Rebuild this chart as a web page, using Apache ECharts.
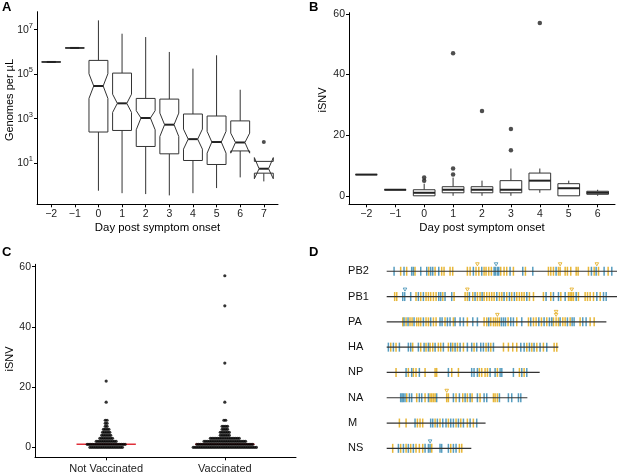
<!DOCTYPE html>
<html>
<head>
<meta charset="utf-8">
<script src="https://cdn.jsdelivr.net/npm/echarts@6/dist/echarts.min.js"></script>
<style>
  html, body { margin: 0; padding: 0; background: #fff; }
  #chart { width: 617px; height: 475px; }
</style>
</head>
<body>
<div id="chart"></div>
<script>
// ---- panel A: viral load (log10 genomes per uL) by day ----
const loadDays = [-2, -1, 0, 1, 2, 3, 4, 5, 6, 7];
// [whisker low, q1, notch low, median, notch high, q3, whisker high]
const loadStats = [
  [5.55, 5.55, 5.55, 5.55, 5.55, 5.55, 5.55],
  [6.18, 6.18, 6.18, 6.18, 6.18, 6.18, 6.18],
  [-0.24, 2.40, 3.91, 4.47, 5.02, 5.62, 7.42],
  [-0.35, 2.47, 3.28, 3.69, 4.10, 5.05, 6.82],
  [-0.39, 1.75, 2.50, 3.03, 3.36, 3.91, 6.67],
  [-0.45, 1.42, 2.20, 2.73, 3.25, 3.88, 6.00],
  [-0.35, 1.12, 1.63, 2.08, 2.53, 3.21, 5.25],
  [-0.12, 0.94, 1.45, 1.95, 2.43, 3.12, 5.85],
  [0.36, 1.55, 1.45, 1.93, 2.35, 2.90, 4.30],
  [0.18, 0.55, 0.30, 0.75, 1.25, 1.08, 1.08]
];
const loadOutliers = [[7, 1.95]];
const loadTicks = [1, 3, 5, 7];

// ---- panel B: iSNV by day ----
const snvDays = [-2, -1, 0, 1, 2, 3, 4, 5, 6];
// [whisker low, q1, median, q3, whisker high]
const snvStats = [
  [7, 7, 7, 7, 7],
  [2, 2, 2, 2, 2],
  [0, 0, 1, 2, 4],
  [0, 1, 2, 3, 6],
  [0, 1, 2, 3, 5],
  [0, 1, 2, 5, 9],
  [1, 2, 5, 7.5, 9],
  [0, 0, 2.5, 4, 5],
  [0, 0.5, 1, 1.5, 2]
];
// [day, iSNV]
const snvOutliers = [[0, 5], [0, 6], [1, 7], [1, 9], [1, 47], [2, 28], [3, 15], [3, 22], [4, 57]];
const snvTicks = [0, 20, 40, 60];

// ---- panel C: iSNV by vaccination ----
const groups = ['Not Vaccinated', 'Vaccinated'];
const snvLevels = [0, 1, 2, 3, 4, 5, 6, 7, 8, 9, 15, 22, 28, 47, 57];
const notVaxCounts = [19, 22, 12, 8, 6, 5, 4, 2, 2, 2, 1, 1, 0, 0, 0];
const vaxCounts = [36, 32, 24, 17, 6, 6, 4, 4, 0, 2, 1, 0, 1, 1, 1];
const groupMedians = [1, 1];

// ---- panel D: iSNV sites along each genome segment (nt) ----
const segments = ['PB2', 'PB1', 'PA', 'HA', 'NP', 'NA', 'M', 'NS'];
const segmentLengths = [2341, 2341, 2233, 1745, 1555, 1430, 1005, 860];
const yellowSites = [
  [142,203,288,427,492,559,583,644,671,820,848,908,936,990,1010,1037,1064,1159,1193,1220,1288,1410,1644,1668,1695,1746,1763,1814,1837,1871,1926,1946,2051,2109,2153,2251],
  [81,102,298,346,400,424,447,475,502,570,685,797,820,875,922,949,990,1017,1044,1068,1092,1146,1170,1220,1271,1322,1349,1373,1397,1451,1492,1593,1668,1770,1848,1865,1881,1898,1949,2017,2041,2068,2102,2170],
  [163,197,237,258,305,325,346,400,424,475,502,593,678,820,990,1017,1058,1085,1105,1125,1146,1234,1322,1441,1492,1519,1573,1627,1695,1722,1746,1790,1814,1865,1966,2068,2109],
  [41,95,264,346,400,441,468,525,549,627,671,719,780,888,1010,1058,1187,1237,1281,1322,1424,1475,1526,1593,1702,1729],
  [95,220,271,298,390,492,508,661,729,942,966,1000,1024,1125,1349,1397],
  [203,305,390,441,458,475,492,610,627,705,773,820,868,949,1085,1102,1125],
  [129,197,312,339,366,492,542,627,705,753,820,881],
  [61,142,197,244,298,332,366,458,651,739,763]
];
const blueSites = [
  [75,176,254,271,346,407,447,468,529,881,966,1092,1105,1125,1139,1254,1383,1485,1722,2081,2129,2210,2288],
  [163,183,244,322,373,529,549,593,661,841,898,970,1119,1193,1248,1298,1424,1620,1695,1746,1814,1926,2136,2204,2231],
  [176,217,278,373,447,542,563,617,644,695,746,780,875,922,1037,1166,1187,1207,1261,1288,1373,1464,1546,1600,1654,1678,1763,1837,1885,1905,1993,2027],
  [17,68,129,220,244,322,380,424,492,576,651,695,746,820,864,915,956,983,1034,1085,1363,1397,1451,1498,1559,1627],
  [197,254,332,627,864,888,922,1051,1102,1153,1170,1288,1373,1424],
  [142,156,169,186,231,254,332,356,424,508,678,739,797,848,922,990,1017,1146,1237,1271,1339,1363],
  [288,447,468,515,570,603,651,678,729,780,848,915],
  [119,170,220,271,390,424,441,542,559,627,678,705]
];
const markedYellow = [[922, 1763, 2136], [820, 1881], [1125, 1722, 1722], [], [], [610], [], []];
const markedBlue = [[1112], [186], [], [], [], [], [], [441]];

const FONT = 'Liberation Sans, Arial, sans-serif';
const YELLOW = '#E3AA16';
const BLUE = '#3A8CB4';
const minus = v => String(v).replace('-', '\u2212');

function boxRenderer(widthUnits, notched) {
  return function (params, api) {
    const x = api.value(0);
    const y = v => api.coord([x, v])[1];
    const cx = api.coord([x, 0])[0];
    const hw = api.size([widthUnits, 0])[0] / 2;
    const lo = api.value(1), q1 = api.value(2), n1 = api.value(3), med = api.value(4),
      n2 = api.value(5), q3 = api.value(6), hi = api.value(7);
    const L = cx - hw, R = cx + hw, ind = notched ? hw * 0.5 : 0;
    const pts = notched
      ? [[L, y(q3)], [R, y(q3)], [R, y(n2)], [R - ind, y(med)], [R, y(n1)], [R, y(q1)],
         [L, y(q1)], [L, y(n1)], [L + ind, y(med)], [L, y(n2)]]
      : [[L, y(q3)], [R, y(q3)], [R, y(q1)], [L, y(q1)]];
    return {
      type: 'group',
      children: [
        { type: 'line', shape: { x1: cx, y1: y(hi), x2: cx, y2: y(q3) }, style: { stroke: '#333', lineWidth: 1 } },
        { type: 'line', shape: { x1: cx, y1: y(q1), x2: cx, y2: y(lo) }, style: { stroke: '#333', lineWidth: 1 } },
        { type: 'polygon', shape: { points: pts }, style: { fill: '#fff', stroke: '#333', lineWidth: 1 } },
        { type: 'line', shape: { x1: L + ind, y1: y(med), x2: R - ind, y2: y(med) }, style: { stroke: '#222', lineWidth: 2 } }
      ]
    };
  };
}

function axisBase(extra) {
  return Object.assign({
    type: 'value',
    splitLine: { show: false },
    axisLine: { show: true, onZero: false, lineStyle: { color: '#000', width: 1 } },
    nameTextStyle: { color: '#000', fontSize: 11.4, fontFamily: FONT }
  }, extra);
}
function ticksAt(vals) {
  return { show: true, length: 3, lineStyle: { color: '#000' }, customValues: vals };
}
function labelsAt(vals, extra) {
  return Object.assign({ color: '#222', fontSize: 10.5, fontFamily: FONT, margin: 4, customValues: vals }, extra);
}

// panel C dot positions (beeswarm-like rows)
const dotStep = 0.0152;
const dotData = [];
[notVaxCounts, vaxCounts].forEach((counts, g) => {
  counts.forEach((n, k) => {
    for (let i = 0; i < n; i++) {
      dotData.push([g + 1 + (i - (n - 1) / 2) * dotStep, snvLevels[k]]);
    }
  });
});

// panel D tick data
const tickData = [];
segments.forEach((s, r) => {
  yellowSites[r].forEach(p => tickData.push([p, r, 0]));
  blueSites[r].forEach(p => tickData.push([p, r, 1]));
});
const markData = [];
segments.forEach((s, r) => {
  const seen = {};
  markedYellow[r].forEach(p => { seen[p] = (seen[p] || 0) + 1; markData.push([p, r, 0, seen[p] - 1]); });
  markedBlue[r].forEach(p => { markData.push([p, r, 1, 0]); });
});

const chart = echarts.init(document.getElementById('chart'));

const option = {
  animation: false,
  backgroundColor: '#fff',
  textStyle: { fontFamily: FONT },
  grid: [
    { left: 37, top: 11.7, width: 241, height: 192.6, outerBoundsMode: 'none' },
    { left: 349, top: 12.7, width: 266, height: 191.6, outerBoundsMode: 'none' },
    { left: 35, top: 264.3, width: 261, height: 193, outerBoundsMode: 'none' },
    { left: 386.7, top: 258.6, width: 230.3, height: 202.4, outerBoundsMode: 'none' }
  ],
  xAxis: [
    axisBase({
      gridIndex: 0, min: -2.6, max: 7.6,
      name: 'Day post symptom onset', nameLocation: 'middle', nameGap: 18,
      axisTick: ticksAt(loadDays),
      axisLabel: labelsAt(loadDays, { formatter: minus })
    }),
    axisBase({
      gridIndex: 1, min: -2.6, max: 6.6,
      name: 'Day post symptom onset', nameLocation: 'middle', nameGap: 18,
      axisTick: ticksAt(snvDays),
      axisLabel: labelsAt(snvDays, { formatter: minus })
    }),
    axisBase({
      gridIndex: 2, min: 0.4, max: 2.6,
      axisTick: ticksAt([1, 2]),
      axisLabel: labelsAt([1, 2], { fontSize: 11, margin: 6, formatter: v => groups[Math.round(v) - 1] })
    }),
    { type: 'value', gridIndex: 3, min: 0, max: 2341, show: false }
  ],
  yAxis: [
    axisBase({
      gridIndex: 0, min: -0.85, max: 7.81,
      axisTick: ticksAt(loadTicks),
      axisLabel: labelsAt(loadTicks, {
        formatter: v => '10{s|' + v + '}',
        rich: { s: { fontSize: 7.5, fontFamily: FONT, color: '#222', padding: [0, 0, 8, 0] } }
      })
    }),
    axisBase({
      gridIndex: 1, min: -2.8, max: 60.4,
      axisTick: ticksAt(snvTicks),
      axisLabel: labelsAt(snvTicks)
    }),
    axisBase({
      gridIndex: 2, min: -3.3, max: 60.8,
      axisTick: ticksAt(snvTicks),
      axisLabel: labelsAt(snvTicks)
    }),
    {
      type: 'category', gridIndex: 3, data: segments, inverse: true,
      axisLine: { show: false }, axisTick: { show: false }, splitLine: { show: false },
      axisLabel: { align: 'left', margin: 38.6, color: '#111', fontSize: 11, fontFamily: FONT }
    }
  ],
  graphic: [
    { type: 'text', left: 2, top: 1, style: { text: 'A', font: 'bold 13px ' + FONT, fill: '#000' } },
    { type: 'text', left: 309, top: 1, style: { text: 'B', font: 'bold 13px ' + FONT, fill: '#000' } },
    { type: 'text', left: 2, top: 246, style: { text: 'C', font: 'bold 13px ' + FONT, fill: '#000' } },
    { type: 'text', left: 309, top: 246, style: { text: 'D', font: 'bold 13px ' + FONT, fill: '#000' } },
    { type: 'text', x: 10, y: 100, rotation: Math.PI / 2,
      style: { text: 'Genomes per \u00b5L', font: '11px ' + FONT, fill: '#000', align: 'center', verticalAlign: 'middle' } },
    { type: 'text', x: 323, y: 100, rotation: Math.PI / 2,
      style: { text: 'iSNV', font: '11px ' + FONT, fill: '#000', align: 'center', verticalAlign: 'middle' } },
    { type: 'text', x: 10, y: 359, rotation: Math.PI / 2,
      style: { text: 'iSNV', font: '11px ' + FONT, fill: '#000', align: 'center', verticalAlign: 'middle' } }
  ],
  series: [
    {
      type: 'custom', xAxisIndex: 0, yAxisIndex: 0,
      renderItem: boxRenderer(0.8, true),
      encode: { x: 0, y: [1, 2, 3, 4, 5, 6, 7] },
      data: loadDays.map((d, i) => [d].concat(loadStats[i]))
    },
    {
      type: 'scatter', xAxisIndex: 0, yAxisIndex: 0, symbolSize: 4,
      itemStyle: { color: '#222' }, data: loadOutliers
    },
    {
      type: 'custom', xAxisIndex: 1, yAxisIndex: 1,
      renderItem: boxRenderer(0.75, false),
      encode: { x: 0, y: [1, 2, 3, 4, 5, 6, 7] },
      data: snvDays.map((d, i) => {
        const s = snvStats[i];
        return [d, s[0], s[1], s[2], s[2], s[2], s[3], s[4]];
      })
    },
    {
      type: 'scatter', xAxisIndex: 1, yAxisIndex: 1, symbolSize: 4.5,
      itemStyle: { color: '#222' }, data: snvOutliers
    },
    {
      type: 'scatter', xAxisIndex: 2, yAxisIndex: 2, symbolSize: 3.2,
      itemStyle: { color: '#000' }, data: dotData
    },
    {
      type: 'custom', xAxisIndex: 2, yAxisIndex: 2,
      renderItem: (params, api) => {
        const a = api.coord([api.value(0) - 0.25, api.value(1)]);
        const b = api.coord([api.value(0) + 0.25, api.value(1)]);
        return { type: 'line', shape: { x1: a[0], y1: a[1], x2: b[0], y2: b[1] }, style: { stroke: '#E0303A', lineWidth: 1.5 } };
      },
      data: groupMedians.map((m, g) => [g + 1, m])
    },
    {
      type: 'custom', xAxisIndex: 3, yAxisIndex: 3,
      renderItem: (params, api) => {
        const p = api.coord([api.value(0), api.value(1)]);
        return {
          type: 'line',
          shape: { x1: p[0], y1: p[1] - 4.5, x2: p[0], y2: p[1] + 4.5 },
          style: { stroke: api.value(2) === 0 ? YELLOW : BLUE, lineWidth: 1.5, opacity: 0.85 }
        };
      },
      data: tickData
    },
    {
      type: 'custom', xAxisIndex: 3, yAxisIndex: 3,
      renderItem: (params, api) => {
        const a = api.coord([0, api.value(1)]);
        const b = api.coord([api.value(0), api.value(1)]);
        return { type: 'line', shape: { x1: a[0], y1: a[1], x2: b[0], y2: b[1] }, style: { stroke: '#333', lineWidth: 1.2 } };
      },
      data: segmentLengths.map((l, r) => [l, r])
    },
    {
      type: 'custom', xAxisIndex: 3, yAxisIndex: 3,
      renderItem: (params, api) => {
        const p = api.coord([api.value(0), api.value(1)]);
        const cy = p[1] - 7 - api.value(3) * 3;
        return {
          type: 'polygon',
          shape: { points: [[p[0] - 1.8, cy - 1.5], [p[0] + 1.8, cy - 1.5], [p[0], cy + 1.6]] },
          style: { fill: '#fff', stroke: api.value(2) === 0 ? YELLOW : BLUE, lineWidth: 0.8 }
        };
      },
      data: markData
    }
  ]
};

chart.setOption(option);
</script>
</body>
</html>
